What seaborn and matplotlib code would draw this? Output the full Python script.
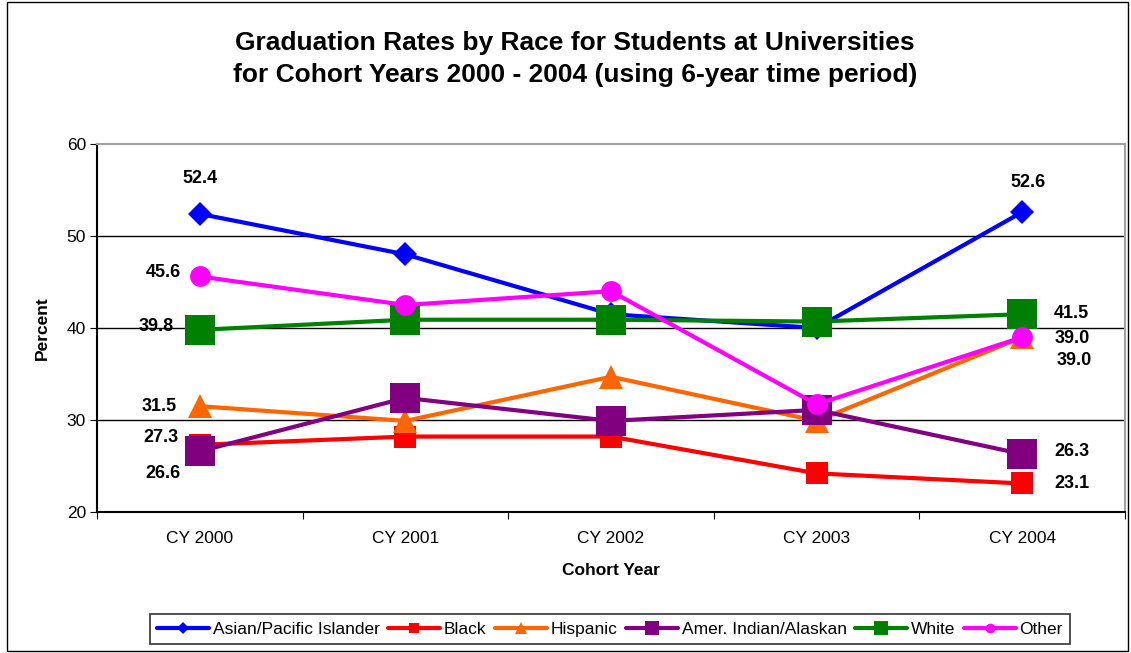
import pandas as pd
import matplotlib
matplotlib.use('Agg')
import matplotlib.pyplot as plt
import seaborn as sns
from matplotlib.patches import Rectangle

# Data
years = ['CY 2000', 'CY 2001', 'CY 2002', 'CY 2003', 'CY 2004']
groups = ['Asian/Pacific Islander', 'Black', 'Hispanic', 'Amer. Indian/Alaskan', 'White', 'Other']
asian = [52.4, 48.0, 41.5, 40.0, 52.6]
black = [27.3, 28.2, 28.2, 24.2, 23.1]
hispanic = [31.5, 29.9, 34.7, 29.9, 39.0]
amer_indian = [26.6, 32.4, 29.9, 31.1, 26.3]
white = [39.8, 40.9, 40.9, 40.7, 41.5]
other = [45.6, 42.5, 44.0, 31.7, 39.0]
values = [asian, black, hispanic, amer_indian, white, other]

colors = ['#0000FF', '#FF0000', '#FF6600', '#800080', '#008000', '#FF00FF']
markers = ['D', 's', '^', 's', 's', 'o']
msizes = [12, 16, 17, 21, 21, 15]
legend_msizes = [6, 7, 8, 10, 10, 7]

rows = []
for g, vals in zip(groups, values):
    for i, v in enumerate(vals):
        rows.append({'Group': g, 'Year': i, 'Percent': v})
df = pd.DataFrame(rows)

sns.set_style('white')
plt.rcParams['font.family'] = ['Liberation Sans', 'DejaVu Sans']
# seaborn greys out text; the original is plain black
for key in ['text.color', 'axes.labelcolor', 'xtick.color', 'ytick.color']:
    plt.rcParams[key] = 'black'

fig = plt.figure(figsize=(11.31, 6.53), dpi=100)
ax = fig.add_axes([97 / 1131, 1 - 512 / 653, (1125 - 97) / 1131, (512 - 144) / 653])

for g, c, m, ms in zip(groups, colors, markers, msizes):
    sns.lineplot(data=df[df['Group'] == g], x='Year', y='Percent', color=c, marker=m,
                 markersize=ms, markeredgewidth=0, linewidth=3, label=g, ax=ax)

ax.set_xlim(-0.5, 4.5)
ax.set_ylim(20, 60)
ax.set_yticks([20, 30, 40, 50, 60])
ax.set_xticks([-0.5, 0.5, 1.5, 2.5, 3.5, 4.5])
ax.set_xticklabels([])
ax.set_xticks(range(5), minor=True)
ax.set_xticklabels(years, minor=True)
ax.tick_params(axis='x', which='major', direction='out', length=5, color='black', bottom=True)
ax.tick_params(axis='x', which='minor', length=0, pad=14, labelsize=12.5)
ax.tick_params(axis='y', direction='out', length=5, color='black', left=True, labelsize=12.5, pad=3)
for y in [30, 40, 50]:
    ax.axhline(y, color='black', linewidth=1, zorder=0)

ax.spines['left'].set_color('black')
ax.spines['bottom'].set_color('black')
ax.spines['top'].set_color('#A0A0A0')
ax.spines['right'].set_color('#A0A0A0')
for s in ax.spines.values():
    s.set_linewidth(1.5)

ax.set_xlabel('Cohort Year', fontsize=12.5, fontweight='bold', labelpad=12)
ax.set_ylabel('Percent', fontsize=12.5, fontweight='bold', labelpad=12)

# End-point labels (offsets in pixels)
label_style = dict(textcoords='offset pixels', fontsize=13, fontweight='bold', va='center')
left_offsets = [(0, 35, 'center'), (-21, 7, 'right'), (-23, 0, 'right'),
                (-19, -22, 'right'), (-26, 3, 'right'), (-19, 4, 'right')]
right_offsets = [(6, 30, 'center'), (32, 0, 'left'), (34, -23, 'left'),
                 (32, 3, 'left'), (32, 1, 'left'), (32, -1, 'left')]
for vals, lo, ro in zip(values, left_offsets, right_offsets):
    ax.annotate(f'{vals[0]:.1f}', (0, vals[0]), xytext=(lo[0], lo[1]), ha=lo[2], **label_style)
    ax.annotate(f'{vals[-1]:.1f}', (4, vals[-1]), xytext=(ro[0], ro[1]), ha=ro[2], **label_style)

ax.get_legend().remove()
handles, labels = ax.get_legend_handles_labels()
leg = fig.legend(handles, labels, loc='center', bbox_to_anchor=(610 / 1131, 1 - 629 / 653),
                 ncol=6, fontsize=12.5, frameon=True, fancybox=False, edgecolor='black',
                 handlelength=3.0, handletextpad=0.2, columnspacing=0.5, borderpad=0.4)
leg.get_frame().set_linewidth(1.2)
for h, ms in zip(leg.legend_handles, legend_msizes):
    h.set_markersize(ms)

fig.suptitle('Graduation Rates by Race for Students at Universities\n'
             'for Cohort Years 2000 - 2004 (using 6-year time period)',
             x=575 / 1131, y=1 - 31 / 653, va='top', fontsize=19, fontweight='bold',
             linespacing=1.4)

fig.patches.append(Rectangle((7 / 1131, 2 / 653), 1121 / 1131, 649 / 653, transform=fig.transFigure,
                             fill=False, edgecolor='black', linewidth=1))

fig.savefig('out.png', dpi=100)
